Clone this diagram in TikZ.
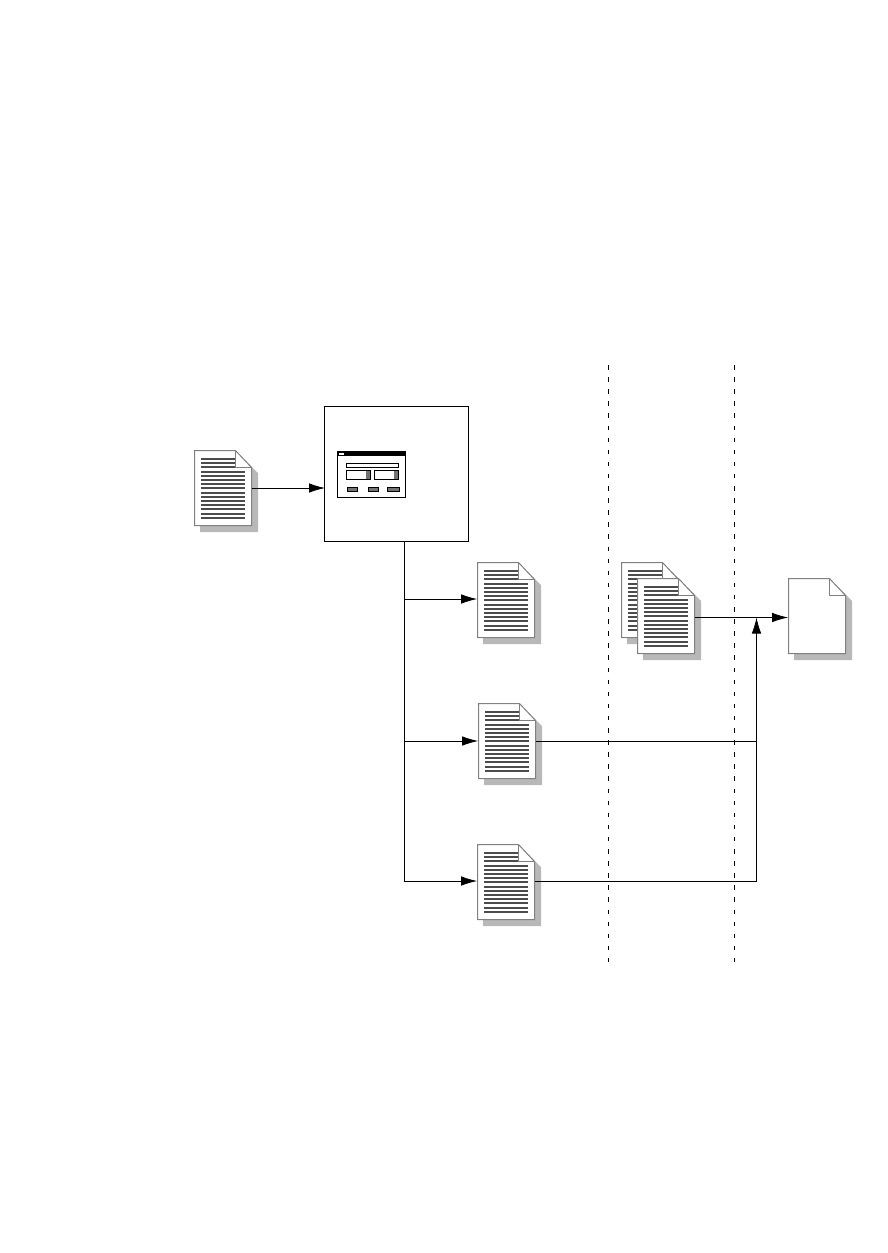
\documentclass[tikz,border=0pt]{standalone}
\usetikzlibrary{arrows.meta,calc}
\definecolor{pageedge}{gray}{0.5}
\definecolor{pageshade}{gray}{0.72}
\definecolor{pagetext}{gray}{0.3}
\tikzset{
  pics/blankpage/.style={code={
    \fill[pageshade] (5.5,5.5) -- (46.5,5.5) -- (63.5,22.5) -- (63.5,81.5) -- (5.5,81.5) -- cycle;
    \draw[pageedge, fill=white, line width=1pt] (0,0) -- (41,0) -- (57,17) -- (57,75) -- (0,75) -- cycle;
    \draw[pageedge, line width=1pt] (41,0) -- (41,17) -- (57,17);
    \node[minimum width=57pt, minimum height=75pt, inner sep=0pt] (-body) at (28.5,37.5) {};
  }},
  pics/textpage/.style={code={
    \pic {blankpage};
    \foreach \ty in {8.5,12.5,16.5} \draw[pagetext, line width=2pt] (6.5,\ty) -- (40.5,\ty);
    \foreach \ty in {21.5,25.5,29.5,33.5,37.5,42.5,46.5,50.5,54.5,58.5,63.5,67.5} \draw[pagetext, line width=2pt] (6.5,\ty) -- (50.5,\ty);
  }}
}
\begin{document}
\begin{tikzpicture}[x=1pt, y=-1pt, >={Latex[length=16pt, width=9.5pt]}, line width=0.8pt,
  frame/.style={draw, minimum width=144pt, minimum height=135pt, inner sep=0pt},
  link/.style={->},
  divider/.style={dash pattern=on 4.5pt off 7.6pt}]
\useasboundingbox (0,0) rectangle (888,1253);
\pic (source) at (194.5,450.5) {textpage};
\pic (first) at (477.5,562.5) {textpage};
\pic (second) at (478.5,703.5) {textpage};
\pic (third) at (477.5,844.5) {textpage};
\pic (backpage) at (621.5,562.5) {textpage};
\pic (frontpage) at (637.5,578.5) {textpage};
\pic (target) at (788.5,578.5) {blankpage};
\node[frame] (tool) at (396.5,474) {};
\draw[fill=white] (337,451) rectangle (405,497);
\fill (337,451) rectangle (405,456);
\fill[white] (339,452.5) rectangle (343.5,454.5);
\draw (346.5,463) rectangle (398,467.5);
\draw (346.5,470) rectangle (370,479.5);
\draw (374,470) rectangle (398,479.5);
\fill[black!55] (366,470.5) rectangle (369.6,479);
\fill[black!55] (393.5,470.5) rectangle (397.6,479);
\foreach \bl/\br in {347/357,368/378,387/399} \draw[fill=black!55] (\bl,487) rectangle (\br,491);
\coordinate (entry) at (325,488);
\coordinate (bus) at (404,541);
\coordinate (busone) at (404,599);
\coordinate (bustwo) at (404,741);
\coordinate (busend) at (404,881);
\coordinate (riser) at (756.5,881);
\coordinate (risertwo) at (756.5,741);
\coordinate (risertop) at (756.5,617.5);
\coordinate (dashatop) at (608,365);
\coordinate (dashabot) at (608,963);
\coordinate (dashbtop) at (734,365);
\coordinate (dashbbot) at (734,963);
\draw[link] (source-body.east |- entry) -- (entry);
\draw (bus) -- (busend);
\draw[link] (busone) -- (first-body.west |- busone);
\draw[link] (bustwo) -- (second-body.west |- bustwo);
\draw[link] (busend) -- (third-body.west |- busend);
\draw (second-body.east |- risertwo) -- (risertwo);
\draw (third-body.east |- riser) -- (riser);
\draw[link] (riser) -- (risertop);
\draw[link] (frontpage-body.east |- risertop) -- (target-body.west |- risertop);
\draw[divider] (dashatop) -- (dashabot);
\draw[divider] (dashbtop) -- (dashbbot);
\end{tikzpicture}
\end{document}
